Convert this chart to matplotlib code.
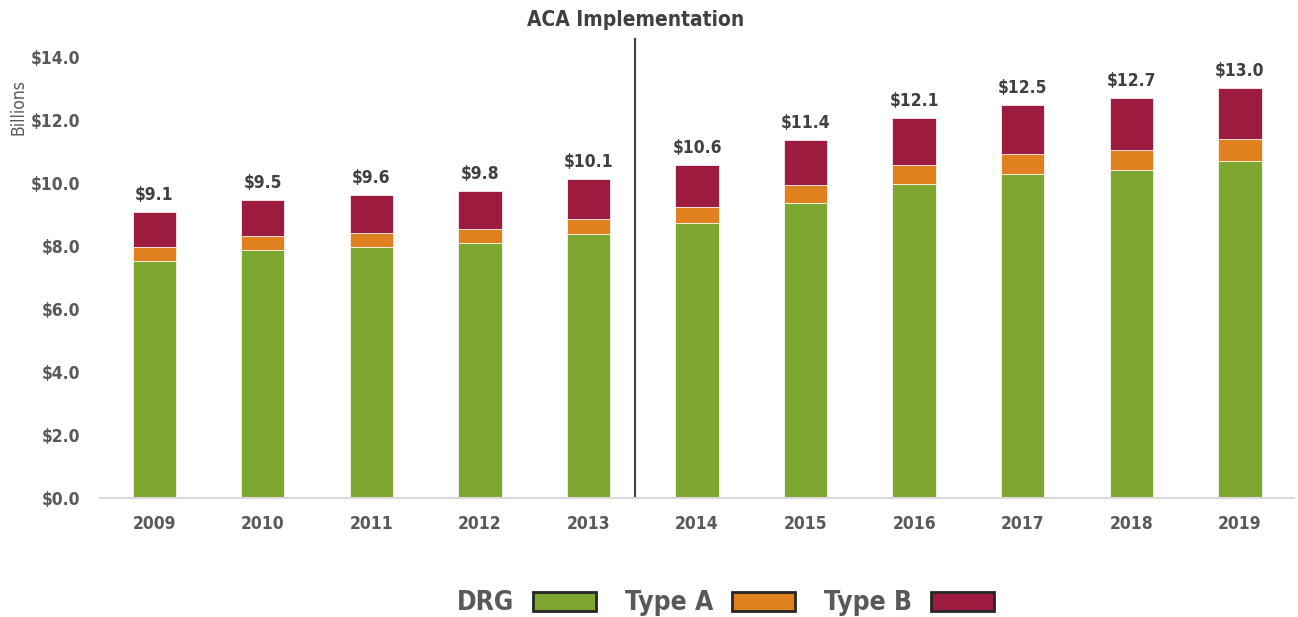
import matplotlib.pyplot as plt
from matplotlib.patches import Patch
import numpy as np

plt.rcParams['font.family'] = ['DejaVu Sans']
plt.rcParams['font.stretch'] = 'condensed'

years = ['2009', '2010', '2011', '2012', '2013', '2014', '2015', '2016', '2017', '2018', '2019']
drg    = [7.52, 7.87, 7.97, 8.10, 8.38, 8.73, 9.37, 9.97, 10.29, 10.41, 10.70]
type_a = [0.45, 0.45, 0.44, 0.44, 0.48, 0.51, 0.57, 0.60, 0.63, 0.64, 0.70]
type_b = [1.11, 1.14, 1.21, 1.21, 1.27, 1.33, 1.43, 1.49, 1.56, 1.65, 1.62]
totals = ['$9.1', '$9.5', '$9.6', '$9.8', '$10.1', '$10.6', '$11.4', '$12.1', '$12.5', '$12.7', '$13.0']

green = '#7DA731'
orange = '#E0801E'
maroon = '#9E1B40'
grey = '#595959'

fig = plt.figure(figsize=(12.98, 6.17), dpi=100)
ax = fig.add_axes([0.077, 0.193, 0.92, 0.715])

x = np.arange(len(years))
w = 0.4
drg = np.array(drg); type_a = np.array(type_a); type_b = np.array(type_b)
ax.bar(x, drg, w, color=green, edgecolor='white', linewidth=0.5)
ax.bar(x, type_a, w, bottom=drg, color=orange, edgecolor='white', linewidth=0.5)
ax.bar(x, type_b, w, bottom=drg + type_a, color=maroon, edgecolor='white', linewidth=0.5)

top = drg + type_a + type_b
for xi, t, lab in zip(x, top, totals):
    ax.text(xi, t + 0.25, lab, ha='center', va='bottom', fontsize=12.5, color='#404040',
            fontweight='semibold')

ax.set_xlim(-0.5, 10.5)
ax.set_ylim(0, 14)
ax.set_yticks(np.arange(0, 14.1, 2))
ax.set_yticklabels(['$%.1f' % v for v in np.arange(0, 14.1, 2)])
ax.set_xticks(x)
ax.set_xticklabels(years)
ax.tick_params(length=0, labelsize=12.5, labelcolor=grey)
ax.tick_params(axis='x', pad=12)
ax.tick_params(axis='y', pad=14)
for lab in ax.get_xticklabels() + ax.get_yticklabels():
    lab.set_fontweight('semibold')
for s in ['top', 'right', 'left']:
    ax.spines[s].set_visible(False)
ax.spines['bottom'].set_color('#D9D9D9')
ax.spines['bottom'].set_linewidth(1.5)
ax.set_ylabel('Billions', fontsize=12.5, color=grey)
ax.yaxis.set_label_coords(-0.061, 0.885)

# ACA line
ax.plot([4.43, 4.43], [0, 14.55], color='#404040', lw=1.5, clip_on=False)
ax.text(4.43, 14.85, 'ACA Implementation', ha='center', va='bottom', fontsize=15,
        color='#404040', fontweight='semibold')

handles = [Patch(facecolor=c, edgecolor='#262626', linewidth=2) for c in (green, orange, maroon)]
leg = fig.legend(handles, ['DRG', 'Type A', 'Type B'], loc='center', bbox_to_anchor=(0.559, 0.022),
                 ncol=3, frameon=False, markerfirst=False, fontsize=19, handlelength=2.4,
                 handleheight=0.75, columnspacing=1.1, handletextpad=0.7)
for t in leg.get_texts():
    t.set_color(grey)
    t.set_fontweight('semibold')

fig.savefig('out.png', dpi=100)
